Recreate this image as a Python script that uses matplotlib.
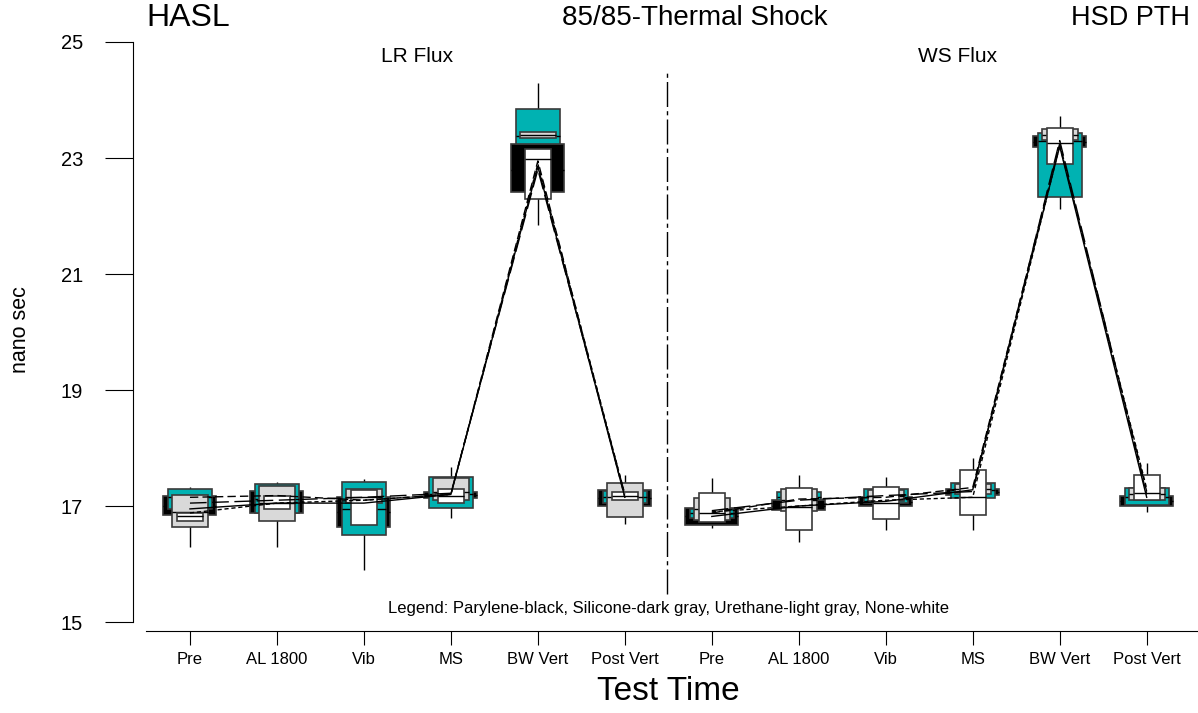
import numpy as np
import matplotlib.pyplot as plt

plt.rcParams['font.family'] = ['Liberation Sans', 'DejaVu Sans']

W, H = 1198, 713

# categories (two panels of six test times)
times = ['Pre', 'AL 1800', 'Vib', 'MS', 'BW Vert', 'Post Vert']
tick_labels = times + times

# box data per coating: q1, q3, median, mean (mean is what the lines join)
pary_q3 = [17.17, 17.26, 17.16, 17.24, 23.24, 17.28, 16.97, 17.10, 17.15, 17.30, 23.38, 17.17]
pary_q1 = [16.84, 16.88, 16.64, 17.14, 22.41, 17.00, 16.67, 16.93, 17.00, 17.19, 23.19, 17.00]
pary_med = [17.00, 17.08, 16.90, 17.19, 22.80, 17.14, 16.82, 17.00, 17.07, 17.24, 23.28, 17.08]
pary_mean = [16.95, 17.05, 17.05, 17.20, 22.85, 17.15, 16.82, 17.00, 17.08, 17.28, 23.20, 17.15]

sili_q3 = [17.29, 17.38, 17.41, 17.50, 23.84, 17.26, 16.95, 17.24, 17.30, 17.40, 23.43, 17.31]
sili_q1 = [16.95, 16.88, 16.50, 16.97, 23.25, 17.05, 16.80, 17.10, 17.05, 17.14, 22.33, 17.02]
sili_med = [17.15, 17.12, 16.95, 17.20, 23.38, 17.15, 16.88, 17.15, 17.15, 17.28, 23.30, 17.15]
sili_mean = [17.15, 17.18, 17.10, 17.20, 22.95, 17.15, 16.88, 17.12, 17.15, 17.32, 23.25, 17.20]

ure_q3 = [17.19, 17.34, 17.29, 17.48, 23.45, 17.40, 17.14, 17.29, 17.27, 17.38, 23.50, 17.31]
ure_q1 = [16.64, 16.74, 17.05, 17.10, 23.35, 16.81, 16.76, 16.91, 17.08, 17.20, 23.31, 17.10]
ure_med = [16.90, 17.05, 17.15, 17.25, 23.40, 17.15, 16.95, 17.10, 17.18, 17.30, 23.40, 17.20]
ure_mean = [17.05, 17.10, 17.15, 17.22, 22.80, 17.20, 16.92, 17.10, 17.18, 17.25, 23.30, 17.25]

none_q3 = [16.88, 17.17, 17.28, 17.29, 23.16, 17.24, 17.22, 17.31, 17.33, 17.62, 23.52, 17.53]
none_q1 = [16.74, 16.95, 16.67, 17.05, 22.29, 17.10, 16.72, 16.59, 16.78, 16.84, 22.90, 17.10]
none_med = [16.82, 17.05, 17.15, 17.18, 22.98, 17.17, 16.88, 16.98, 17.05, 17.15, 23.26, 17.22]
none_mean = [16.88, 17.05, 17.10, 17.20, 22.90, 17.20, 16.90, 17.00, 17.10, 17.15, 23.22, 17.30]

# whiskers per test time
whisk_hi = [17.33, 17.41, 17.47, 17.67, 24.29, 17.53, 17.48, 17.53, 17.50, 17.83, 23.72, 17.74]
whisk_lo = [16.29, 16.29, 15.90, 16.79, 21.84, 16.69, 16.62, 16.38, 16.59, 16.59, 22.12, 16.90]

series = [
    # q1, q3, med, mean, fill, width, dashes
    (pary_q1, pary_q3, pary_med, pary_mean, 'black', 0.61, None),
    (sili_q1, sili_q3, sili_med, sili_mean, '#00B2B2', 0.51, (6, 3)),
    (ure_q1, ure_q3, ure_med, ure_mean, '#D9D9D9', 0.41, (12, 4)),
    (none_q1, none_q3, none_med, none_mean, 'white', 0.30, (3, 2)),
]

fig = plt.figure(figsize=(W / 100, H / 100), dpi=100)
ax = fig.add_axes([133 / W, (H - 631) / H, 1 - 133 / W, (631 - 42) / H])

x = np.arange(len(tick_labels))

ax.vlines(x, whisk_lo, whisk_hi, color='black', lw=1, zorder=1)

for k, (q1, q3, med, mean, col, w, dash) in enumerate(series):
    q1 = np.array(q1)
    q3 = np.array(q3)
    ax.bar(x, q3 - q1, bottom=q1, width=w, color=col,
           edgecolor='#3a3a3a', linewidth=1.2, zorder=2 + k)
    ax.hlines(med, x - w / 2, x + w / 2, color='black', lw=1, zorder=2 + k)
    for seg in (slice(0, 6), slice(6, 12)):
        ln, = ax.plot(x[seg], np.array(mean)[seg], color='black', lw=1, zorder=8)
        if dash:
            ln.set_dashes(dash)

# divider between the two flux panels
ax.plot([5.49, 5.49], [15.48, 24.5], color='black', lw=1, dashes=(18, 3, 3, 3), zorder=1)

ax.set_xlim(-0.655, 11.59)
ax.set_ylim(14.845, 25.0)
ax.set_yticks([15, 17, 19, 21, 23, 25])
ax.set_xticks(x)
ax.set_xticklabels(tick_labels)

for s in ['top', 'right']:
    ax.spines[s].set_visible(False)
ax.spines['left'].set_bounds(15, 25)
ax.spines['bottom'].set_bounds(-0.506, 11.59)
ax.tick_params(axis='y', length=20, direction='out', pad=16, labelsize=14.5)
ax.tick_params(axis='x', length=10, direction='out', pad=5, labelsize=12)

ax.set_ylabel('nano sec', fontsize=15.5)
ax.yaxis.set_label_coords(-0.096, 0.511)

fig.text(146 / W, 1 - 18 / H, 'HASL', fontsize=23, ha='left', va='center')
fig.text(695 / W, 1 - 18 / H, '85/85-Thermal Shock', fontsize=20, ha='center', va='center')
fig.text(1190 / W, 1 - 18 / H, 'HSD PTH', fontsize=19.5, ha='right', va='center')
fig.text(417 / W, 1 - 57 / H, 'LR Flux', fontsize=15, ha='center', va='center')
fig.text(958 / W, 1 - 57 / H, 'WS Flux', fontsize=15, ha='center', va='center')
fig.text(668 / W, 1 - 608 / H,
         'Legend: Parylene-black, Silicone-dark gray, Urethane-light gray, None-white',
         fontsize=12, ha='center', va='center')
fig.text(668 / W, 1 - 692 / H, 'Test Time', fontsize=24, ha='center', va='center')

fig.savefig('out.png', dpi=100)
